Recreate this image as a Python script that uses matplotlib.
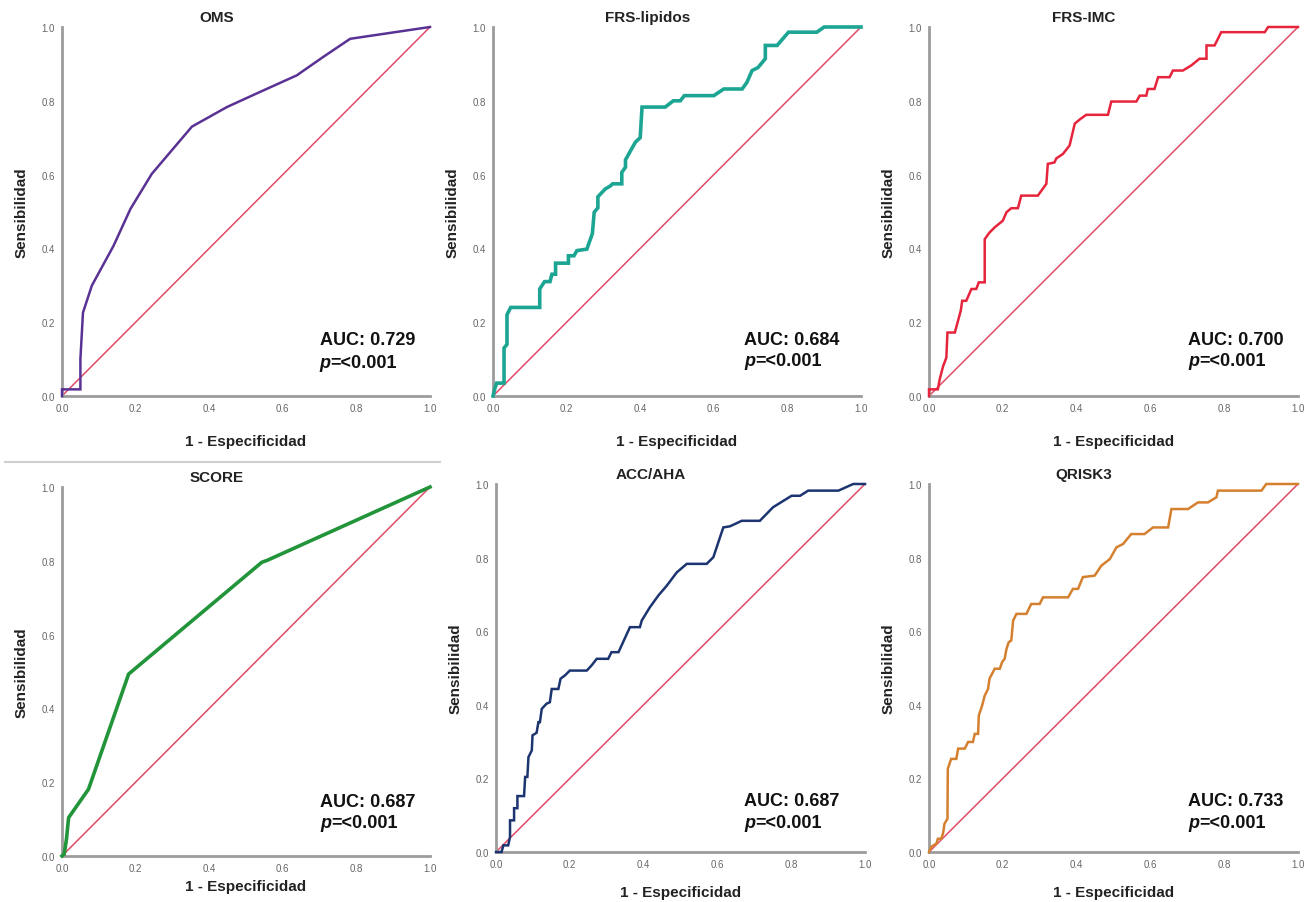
import matplotlib
matplotlib.use("Agg")
import matplotlib.pyplot as plt
from matplotlib.lines import Line2D

plt.rcParams['font.family'] = ['Liberation Sans', 'DejaVu Sans']

# ---------------- data ----------------
titles = ["OMS", "FRS-lipidos", "FRS-IMC", "SCORE", "ACC/AHA", "QRISK3"]
auc_labels = ["AUC: 0.729", "AUC: 0.684", "AUC: 0.700", "AUC: 0.687", "AUC: 0.687", "AUC: 0.733"]
p_label = "=<0.001"
ticks = [0.0, 0.2, 0.4, 0.6, 0.8, 1.0]
tick_labels = ["0.0", "0.2", "0.4", "0.6", "0.8", "1.0"]
xlabel = "1 - Especificidad"
ylabel = "Sensibilidad"

oms_fpr = [0.0, 0.0, 0.05, 0.05, 0.057, 0.081, 0.14, 0.186, 0.244, 0.353, 0.448, 0.538, 0.638, 0.71, 0.783, 1.0]
oms_tpr = [0.0, 0.018, 0.018, 0.10, 0.226, 0.299, 0.407, 0.507, 0.602, 0.73, 0.783, 0.824, 0.869, 0.919, 0.968, 1.0]

frsl_fpr = [0.0, 0.005, 0.01, 0.03, 0.03, 0.038, 0.038, 0.048, 0.127, 0.127, 0.14, 0.155, 0.16, 0.17, 0.17,
            0.205, 0.205, 0.22, 0.228, 0.255, 0.27, 0.275, 0.285, 0.285, 0.305, 0.32, 0.325, 0.35, 0.35,
            0.36, 0.36, 0.387, 0.40, 0.405, 0.468, 0.49, 0.509, 0.52, 0.60, 0.627, 0.677, 0.69, 0.704,
            0.72, 0.74, 0.74, 0.772, 0.803, 0.88, 0.90, 1.0]
frsl_tpr = [0.0, 0.02, 0.035, 0.035, 0.13, 0.14, 0.22, 0.24, 0.24, 0.29, 0.31, 0.31, 0.33, 0.33, 0.36,
            0.36, 0.38, 0.38, 0.394, 0.398, 0.44, 0.498, 0.51, 0.54, 0.561, 0.57, 0.575, 0.575, 0.606,
            0.62, 0.64, 0.688, 0.70, 0.783, 0.783, 0.80, 0.80, 0.814, 0.814, 0.832, 0.832, 0.85, 0.882,
            0.89, 0.914, 0.95, 0.95, 0.986, 0.986, 1.0, 1.0]

frsi_fpr = [0.0, 0.0, 0.024, 0.029, 0.038, 0.047, 0.05, 0.07, 0.086, 0.09, 0.101, 0.115, 0.128, 0.135, 0.151,
            0.151, 0.164, 0.178, 0.20, 0.21, 0.223, 0.241, 0.25, 0.295, 0.318, 0.322, 0.34, 0.345, 0.363,
            0.381, 0.395, 0.408, 0.426, 0.485, 0.494, 0.562, 0.571, 0.589, 0.593, 0.611, 0.621, 0.652,
            0.661, 0.688, 0.711, 0.733, 0.752, 0.752, 0.774, 0.783, 0.792, 0.91, 0.919, 1.0]
frsi_tpr = [0.0, 0.018, 0.018, 0.045, 0.08, 0.104, 0.172, 0.172, 0.231, 0.258, 0.258, 0.29, 0.29, 0.308, 0.308,
            0.425, 0.443, 0.457, 0.475, 0.498, 0.509, 0.509, 0.543, 0.543, 0.575, 0.629, 0.633, 0.644, 0.656,
            0.679, 0.738, 0.749, 0.762, 0.762, 0.798, 0.798, 0.814, 0.814, 0.832, 0.832, 0.864, 0.864,
            0.882, 0.882, 0.896, 0.914, 0.914, 0.95, 0.95, 0.968, 0.986, 0.986, 1.0, 1.0]

score_fpr = [0.0, 0.006, 0.012, 0.018, 0.072, 0.181, 0.543, 0.557, 1.0]
score_tpr = [0.0, 0.005, 0.045, 0.104, 0.181, 0.493, 0.796, 0.801, 1.0]

acc_fpr = [0.0, 0.015, 0.02, 0.033, 0.038, 0.038, 0.049, 0.049, 0.058, 0.058, 0.076, 0.079, 0.085, 0.088,
           0.097, 0.099, 0.11, 0.115, 0.119, 0.124, 0.137, 0.146, 0.151, 0.169, 0.175, 0.187, 0.20, 0.246,
           0.259, 0.273, 0.304, 0.313, 0.332, 0.363, 0.39, 0.395, 0.417, 0.44, 0.463, 0.49, 0.517, 0.571,
           0.589, 0.616, 0.634, 0.666, 0.715, 0.751, 0.801, 0.824, 0.846, 0.928, 0.968, 1.0]
acc_tpr = [0.0, 0.0, 0.018, 0.018, 0.041, 0.086, 0.086, 0.119, 0.119, 0.152, 0.152, 0.204, 0.204, 0.258,
           0.276, 0.317, 0.324, 0.353, 0.353, 0.389, 0.403, 0.407, 0.443, 0.443, 0.471, 0.48, 0.493, 0.493,
           0.507, 0.525, 0.525, 0.543, 0.543, 0.611, 0.611, 0.629, 0.665, 0.697, 0.724, 0.76, 0.783, 0.783,
           0.801, 0.882, 0.885, 0.90, 0.90, 0.937, 0.968, 0.968, 0.982, 0.982, 1.0, 1.0]

qr_fpr = [0.0, 0.006, 0.02, 0.024, 0.033, 0.038, 0.042, 0.05, 0.051, 0.06, 0.074, 0.079, 0.097, 0.106, 0.119,
          0.124, 0.133, 0.135, 0.144, 0.151, 0.16, 0.164, 0.178, 0.192, 0.198, 0.205, 0.21, 0.216, 0.223,
          0.228, 0.237, 0.264, 0.277, 0.30, 0.309, 0.377, 0.39, 0.404, 0.417, 0.449, 0.467, 0.49, 0.508,
          0.526, 0.548, 0.584, 0.607, 0.648, 0.657, 0.702, 0.729, 0.756, 0.779, 0.783, 0.901, 0.914, 1.0]
qr_tpr = [0.0, 0.014, 0.023, 0.036, 0.036, 0.05, 0.077, 0.09, 0.226, 0.253, 0.253, 0.281, 0.281, 0.299, 0.299,
          0.321, 0.321, 0.371, 0.398, 0.425, 0.443, 0.471, 0.498, 0.498, 0.516, 0.525, 0.552, 0.57, 0.575,
          0.629, 0.647, 0.647, 0.674, 0.674, 0.692, 0.692, 0.715, 0.715, 0.747, 0.751, 0.778, 0.796, 0.828,
          0.837, 0.864, 0.864, 0.882, 0.882, 0.932, 0.932, 0.95, 0.95, 0.964, 0.982, 0.982, 1.0, 1.0]

curves_fpr = [oms_fpr, frsl_fpr, frsi_fpr, score_fpr, acc_fpr, qr_fpr]
curves_tpr = [oms_tpr, frsl_tpr, frsi_tpr, score_tpr, acc_tpr, qr_tpr]

# ---------------- style ----------------
colors = ["#5a3294", "#1da593", "#e6243c", "#22943a", "#1c3470", "#d4802f"]
widths = [1.8, 2.6, 1.8, 2.6, 1.8, 1.8]
diag_color = "#e04a68"

W, H = 1315, 903
# axes boxes in pixels: (left, top, right, bottom)
boxes_px = [(62, 28, 430, 397), (493, 28, 861, 397), (929, 28, 1298, 397),
            (62, 488, 430, 857), (496, 485, 865, 853), (929, 485, 1298, 853)]
auc_pos = [(0.70, 0.152, 0.092), (0.683, 0.152, 0.095), (0.702, 0.154, 0.095),
           (0.701, 0.149, 0.090), (0.672, 0.140, 0.081), (0.702, 0.140, 0.081)]
xlabel_y = [-0.122, -0.122, -0.122, -0.081, -0.108, -0.108]

fig = plt.figure(figsize=(W / 100, H / 100), dpi=100)
fig.patch.set_facecolor("white")

for i in range(6):
    l, t, r, b = boxes_px[i]
    ax = fig.add_axes([l / W, 1 - b / H, (r - l) / W, (b - t) / H])
    ax.set_xlim(0, 1)
    ax.set_ylim(0, 1)
    for s in ["top", "right"]:
        ax.spines[s].set_visible(False)
    for s in ["left", "bottom"]:
        ax.spines[s].set_color("#9c9c9c")
        ax.spines[s].set_linewidth(2.0)
    ax.set_xticks(ticks)
    ax.set_yticks(ticks)
    ax.set_xticklabels(tick_labels)
    ax.set_yticklabels(tick_labels)
    ax.tick_params(length=0, labelsize=7, labelcolor="#666666")
    ax.tick_params(axis="x", pad=5)
    ax.tick_params(axis="y", pad=5)

    ax.plot([0, 1], [0, 1], color=diag_color, lw=1.1, clip_on=False, zorder=2)
    ax.plot(curves_fpr[i], curves_tpr[i], color=colors[i], lw=widths[i],
            clip_on=False, zorder=3, solid_joinstyle="miter")

    ax.text(0.42, 1.027, titles[i], transform=ax.transAxes, ha="center", va="center",
            fontsize=11, fontweight="bold", color="#222222")
    ax.text(0.5, xlabel_y[i], xlabel, transform=ax.transAxes, ha="center", va="center",
            fontsize=11, fontweight="bold", color="#222222")
    ax.text(-0.110, 0.5, ylabel, transform=ax.transAxes, ha="center", va="center",
            rotation=90, fontsize=11, fontweight="bold", color="#222222")

    ax_x, ay1, ay2 = auc_pos[i]
    ax.text(ax_x, ay1, auc_labels[i], transform=ax.transAxes, ha="left", va="center",
            fontsize=13, fontweight="bold", color="#111111")
    pt = ax.text(ax_x, ay2, "p", transform=ax.transAxes, ha="left", va="center",
                 fontsize=13, fontweight="bold", fontstyle="italic", color="#111111")
    ax.annotate(p_label, xy=(1, 0), xycoords=pt, ha="left", va="bottom",
                fontsize=13, fontweight="bold", color="#111111")

# thin separator line under the first panel
fig.add_artist(Line2D([5 / W, 440 / W], [1 - 463 / H, 1 - 463 / H], color="#cfcfcf", lw=1.5))

fig.savefig("out.png", dpi=100, facecolor="white")
